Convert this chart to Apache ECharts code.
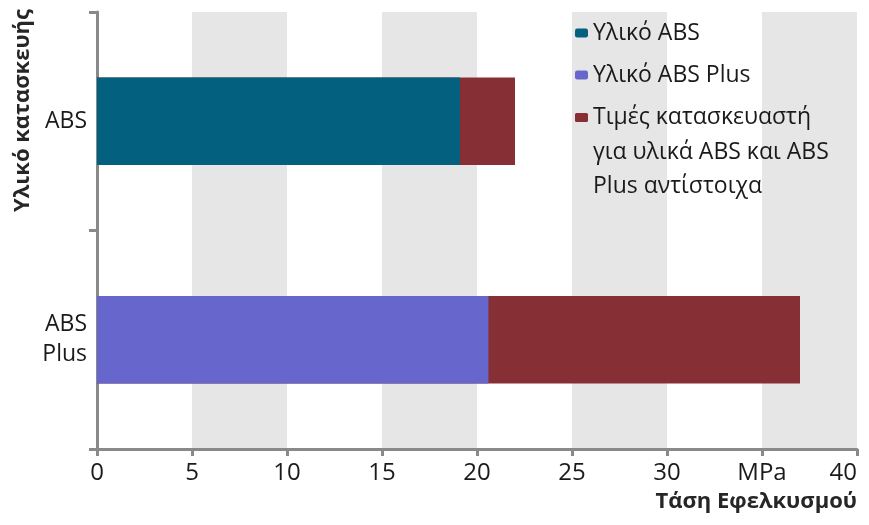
<!DOCTYPE html>
<html>
<head>
<meta charset="utf-8">
<script src="https://cdn.jsdelivr.net/npm/echarts@6/dist/echarts.min.js"></script>
<style>
html,body{margin:0;padding:0;background:#fff;}
#main{width:869px;height:525px;}
</style>
</head>
<body>
<div id="main"></div>
<script>
// ---- data ----
var categories = ['ABS', 'ABS\nPlus'];
var seriesNames = ['Υλικό ABS', 'Υλικό ABS Plus', 'Τιμές κατασκευαστή για υλικά ABS και ABS Plus αντίστοιχα'];
var absValues = [19.1, null];
var absPlusValues = [null, 20.6];
var manufacturerValues = [22.0, 37.0];
var xTickLabels = {0: '0', 5: '5', 10: '10', 15: '15', 20: '20', 25: '25', 30: '30', 35: 'MPa', 40: '40'};
var xAxisTitle = 'Τάση Εφελκυσμού';
var yAxisTitle = 'Υλικό κατασκευής';
var manufacturerLegendText = 'Τιμές κατασκευαστή\nγια υλικά ABS και ABS\nPlus αντίστοιχα';

var colors = {abs: '#03607f', absPlus: '#6666cc', manu: '#863035'};
var font = '"Open Sans", "Noto Sans", sans-serif';
var textColor = '#1a1a1a';
var axisColor = '#898989';

var chart = echarts.init(document.getElementById('main'), null, {renderer: 'canvas'});
var option = {
  animation: false,
  textStyle: {fontFamily: font},
  grid: {left: 97, right: 12, top: 12, bottom: 76, containLabel: false, outerBoundsMode: 'none'},
  xAxis: {
    type: 'value', min: 0, max: 40, interval: 5,
    axisLine: {show: true, lineStyle: {color: axisColor, width: 3}},
    axisTick: {show: true, length: 7, lineStyle: {color: axisColor, width: 3}},
    splitLine: {show: false},
    splitArea: {show: true, areaStyle: {color: ['rgba(255,255,255,0)', '#e6e6e6']}},
    axisLabel: {
      margin: 12, fontSize: 24, color: textColor, fontFamily: font, alignMaxLabel: 'right',
      formatter: function (v) { return xTickLabels[v] !== undefined ? xTickLabels[v] : ''; }
    }
  },
  yAxis: {
    type: 'category', data: categories, inverse: true,
    axisLine: {show: true, lineStyle: {color: axisColor, width: 3}},
    axisTick: {show: true, length: 8, lineStyle: {color: axisColor, width: 3}},
    axisLabel: {margin: 10, fontSize: 23, lineHeight: 30, color: textColor, fontFamily: font, align: 'right'},
    splitLine: {show: false}
  },
  legend: [
    {
      data: [seriesNames[0], seriesNames[1]],
      orient: 'vertical', left: 570, top: 11,
      itemWidth: 13, itemHeight: 9, itemGap: 8, icon: 'roundRect',
      textStyle: {fontSize: 23, lineHeight: 34, color: textColor, fontFamily: font},
      selectedMode: false
    },
    {
      data: [seriesNames[2]],
      orient: 'vertical', left: 570, top: 95,
      itemWidth: 13, itemHeight: 104,
      icon: 'path://M0,0M1.5,13L11.5,13Q13,13 13,14.5L13,20.5Q13,22 11.5,22L1.5,22Q0,22 0,20.5L0,14.5Q0,13 1.5,13ZM13,104',
      formatter: function () { return manufacturerLegendText; },
      textStyle: {fontSize: 23, lineHeight: 34.5, color: textColor, fontFamily: font},
      selectedMode: false
    }
  ],
  graphic: [
    {
      type: 'text', left: 12, top: 9, rotation: Math.PI / 2,
      style: {text: yAxisTitle, font: 'bold 22px ' + font, fill: '#262626'}
    },
    {
      type: 'text', right: 12, top: 491,
      style: {text: xAxisTitle, font: 'bold 22px ' + font, fill: '#262626'}
    }
  ],
  series: [
    {name: seriesNames[2], type: 'bar', data: manufacturerValues, barWidth: '40%', barGap: '-100%',
     itemStyle: {color: colors.manu}},
    {name: seriesNames[0], type: 'bar', data: absValues, barWidth: '40%', barGap: '-100%',
     itemStyle: {color: colors.abs}},
    {name: seriesNames[1], type: 'bar', data: absPlusValues, barWidth: '40%', barGap: '-100%',
     itemStyle: {color: colors.absPlus}}
  ]
};
chart.setOption(option);
</script>
</body>
</html>
